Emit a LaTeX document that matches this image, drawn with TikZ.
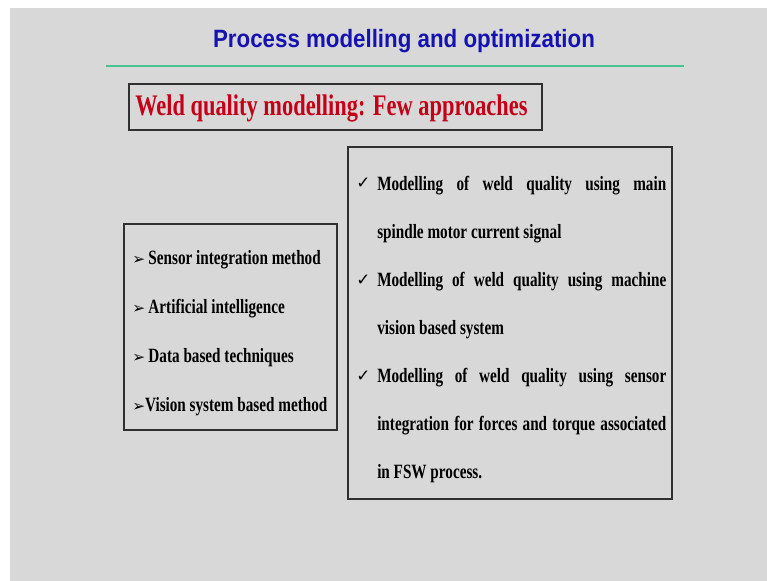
\documentclass[tikz,border=0pt]{standalone}
\usepackage{fontspec}
\setmainfont{Liberation Serif}
\newfontfamily\titlefont[FakeStretch=0.89]{Liberation Sans}
\newfontfamily\slidefont[FakeStretch=0.75]{Liberation Serif}
\newfontfamily\symfont{DejaVu Sans}

\definecolor{slidegray}{RGB}{216,216,216}
\definecolor{titleblue}{RGB}{22,18,178}
\definecolor{rulegreen}{RGB}{72,196,146}
\definecolor{headred}{RGB}{196,0,24}
\definecolor{boxline}{RGB}{48,48,48}

\tikzset{
  slidebox/.style={draw=boxline,line width=1.5pt},
  lefttext/.style={anchor=base west,inner sep=0pt,font=\slidefont\bfseries\fontsize{15.2}{18}\selectfont},
  righttext/.style={anchor=north west,inner sep=0pt,text width=216.75pt,align=justify,
    font=\slidefont\bfseries\fontsize{15.2}{36}\selectfont},
  checkmark/.style={anchor=base west,inner sep=0pt,font=\symfont\fontsize{12.5}{14}\selectfont}
}
\newcommand{\pointer}{{\symfont\fontsize{11.5}{12}\selectfont ➢}}

\begin{document}
\begin{tikzpicture}[x=0.75pt,y=0.75pt,yscale=-1]
\useasboundingbox (0,0) rectangle (767,581);
\fill[slidegray] (10,8) rectangle (767,581);

% title and rule
\node[anchor=base,inner sep=0pt,text=titleblue,font=\titlefont\bfseries\fontsize{18.8}{22}\selectfont] (title) at (404,48) {Process modelling and optimization};
\coordinate (ruleL) at (106,66);
\coordinate (ruleR) at (684,66);
\draw[rulegreen,line width=2.2pt] (ruleL) -- (ruleR);

% heading box
\draw[slidebox] (129,84) rectangle (542,130);
\node[anchor=base west,inner sep=0pt,text=headred,font=\slidefont\bfseries\fontsize{22.4}{26}\selectfont] (head) at (135,116) {Weld quality modelling: Few approaches};

% left box
\draw[slidebox] (124,224) rectangle (337,430);
\node[lefttext] (app1) at (132,264) {\pointer\,Sensor integration method};
\node[lefttext] (app2) at (132,313) {\pointer\,Artificial intelligence};
\node[lefttext] (app3) at (132,362) {\pointer\,Data based techniques};
\node[lefttext] (app4) at (132,411) {\pointer Vision system based method};

% right box
\draw[slidebox] (348,147) rectangle (672,499);
\node[checkmark] (chk1) at (356,189) {✓};
\node[righttext] (way1) at (377,176) {Modelling of weld quality using main\linebreak spindle motor current signal};
\node[checkmark] (chk2) at (356,285) {✓};
\node[righttext] (way2) at (377,272) {Modelling of weld quality using machine\linebreak vision based system};
\node[checkmark] (chk3) at (356,381) {✓};
\node[righttext] (way3) at (377,368) {Modelling of weld quality using sensor\linebreak integration for forces and torque associated\linebreak in FSW process.};
\end{tikzpicture}
\end{document}
